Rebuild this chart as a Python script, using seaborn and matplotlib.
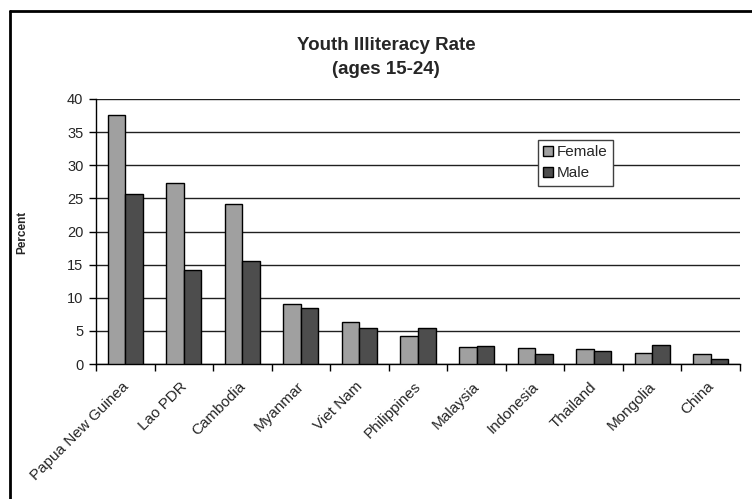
import matplotlib
matplotlib.use("Agg")
import matplotlib.pyplot as plt
from matplotlib.lines import Line2D
from matplotlib.transforms import ScaledTranslation
import seaborn as sns
import pandas as pd

countries = ["Papua New Guinea", "Lao PDR", "Cambodia", "Myanmar", "Viet Nam",
             "Philippines", "Malaysia", "Indonesia", "Thailand", "Mongolia", "China"]
female = [37.6, 27.3, 24.1, 9.0, 6.4, 4.3, 2.6, 2.4, 2.2, 1.7, 1.5]
male = [25.6, 14.2, 15.5, 8.4, 5.4, 5.4, 2.7, 1.5, 1.9, 2.9, 0.8]
y_ticks = [0, 5, 10, 15, 20, 25, 30, 35, 40]

df = pd.DataFrame({
    "Country": countries * 2,
    "Sex": ["Female"] * len(countries) + ["Male"] * len(countries),
    "Percent": female + male,
})

sns.set_theme(style="white")
plt.rcParams["font.family"] = ["Liberation Sans", "DejaVu Sans"]

fig = plt.figure(figsize=(7.52, 4.99), dpi=100)
ax = fig.add_axes([96 / 752, 1 - 364 / 499, (740 - 96) / 752, (364 - 99) / 499])

sns.barplot(data=df, x="Country", y="Percent", hue="Sex", order=countries,
            hue_order=["Female", "Male"], palette=["#a0a0a0", "#4d4d4d"],
            width=0.6, edgecolor="black", linewidth=1.0, ax=ax, zorder=3)

ax.set_xlim(-0.5, len(countries) - 0.5)
ax.set_ylim(0, 40)
ax.set_yticks(y_ticks)
ax.set_yticklabels([str(v) for v in y_ticks], fontsize=10.5)
ax.yaxis.grid(True, color="#202020", linewidth=1.0, zorder=0)
ax.xaxis.grid(False)
ax.set_axisbelow(True)

# category labels at centers, tick marks at category boundaries
ax.set_xticks(range(len(countries)))
ax.set_xticklabels(countries, rotation=45, ha="right", rotation_mode="anchor", fontsize=11)
ax.set_xticks([i - 0.5 for i in range(len(countries) + 1)], minor=True)
ax.tick_params(axis="x", which="major", length=0, pad=11)
ax.tick_params(axis="x", which="minor", length=5, width=1, color="black", direction="out", bottom=True)
ax.tick_params(axis="y", length=5, width=1, color="black", direction="out", left=True, pad=4)
shift = ScaledTranslation(-4 / 100, 0, fig.dpi_scale_trans)
for lbl in ax.get_xticklabels():
    lbl.set_transform(lbl.get_transform() + shift)

for side in ("top", "right"):
    ax.spines[side].set_visible(False)
for side in ("left", "bottom"):
    ax.spines[side].set_color("black")
    ax.spines[side].set_linewidth(1.0)

ax.set_xlabel("")
ax.set_ylabel("")

fig.text(386 / 752, 1 - 45 / 499, "Youth Illiteracy Rate", ha="center", va="center",
         fontsize=13.5, fontweight="bold")
fig.text(386 / 752, 1 - 69 / 499, "(ages 15-24)", ha="center", va="center",
         fontsize=13.5, fontweight="bold")
fig.text(22 / 752, 1 - 232 / 499, "Percent", rotation=90, ha="center", va="center",
         fontsize=8.5, fontweight="bold")

handles, labels = ax.get_legend_handles_labels()
leg = ax.legend(handles, labels, loc="upper left", bbox_to_anchor=(538 / 752, 1 - 140 / 499),
                bbox_transform=fig.transFigure, borderaxespad=0, fontsize=11,
                handlelength=0.6, handleheight=0.6, handletextpad=0.3, labelspacing=0.45,
                borderpad=0.35, fancybox=False, framealpha=1, edgecolor="#404040")
leg.get_frame().set_linewidth(1.0)

# chart frame
fig.add_artist(Line2D([10 / 752, 10 / 752], [0, 1 - 11 / 499], transform=fig.transFigure,
                      color="black", linewidth=2))
fig.add_artist(Line2D([10 / 752, 1], [1 - 11 / 499, 1 - 11 / 499], transform=fig.transFigure,
                      color="black", linewidth=2))

fig.savefig("out.png", dpi=100, facecolor="white")
